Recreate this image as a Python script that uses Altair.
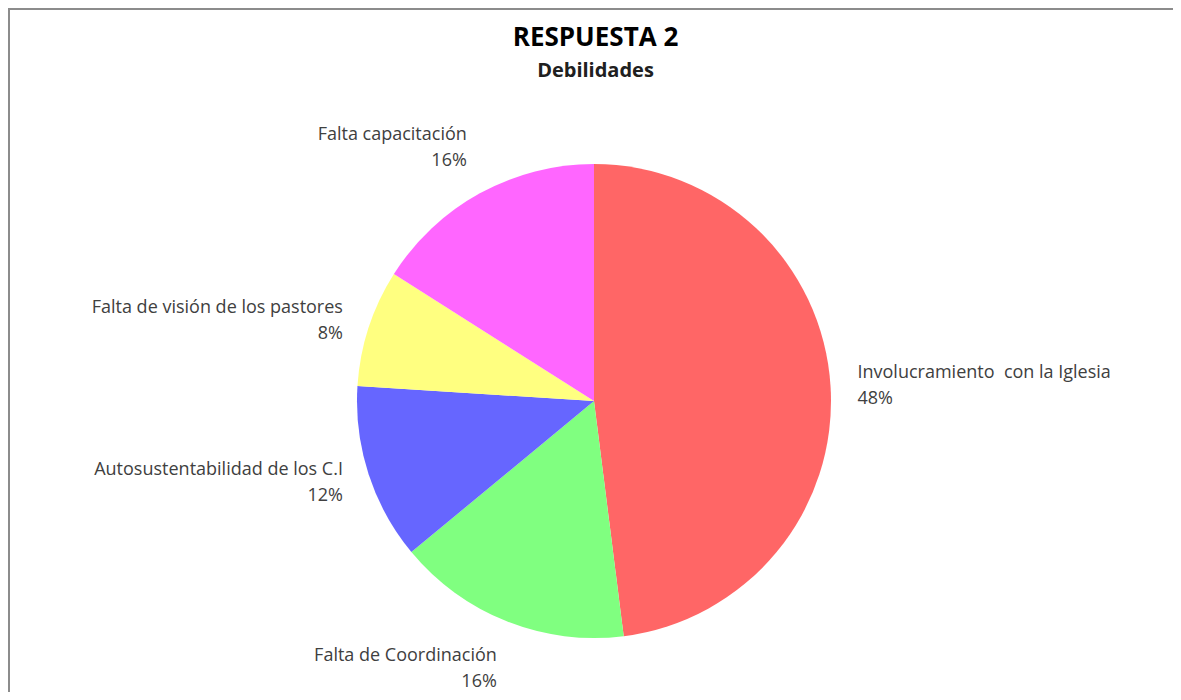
import altair as alt
import pandas as pd

categories = ["Involucramiento\u00a0 con la Iglesia", "Falta de Coordinación",
              "Autosustentabilidad de los C.I", "Falta de visión de los pastores",
              "Falta capacitación"]
values = [48, 16, 12, 8, 16]
colors = ["#FF6666", "#80FF80", "#6666FF", "#FFFF80", "#FF66FF"]
# label placement group: side / vertical anchor
placement = ["left-middle", "right-top", "right-middle-a", "right-middle-b", "right-bottom"]

df = pd.DataFrame({
    "cat": categories,
    "val": values,
    "order": list(range(len(categories))),
    "place": placement,
})
df["label"] = [[c, f"{v}%"] for c, v in zip(categories, values)]

CX, CY = 586, 393
R = 237
LR = 264
FONT = "Open Sans"

theta_scale = alt.Scale(domain=[0, 100], range=[0, 6.283185307179586])
color_scale = alt.Scale(domain=categories, range=colors)

base = alt.Chart(df)

pie = base.mark_arc(outerRadius=R, stroke=None).encode(
    theta=alt.Theta("val:Q", stack=True, scale=theta_scale),
    color=alt.Color("cat:N", scale=color_scale, legend=None),
    order=alt.Order("order:Q"),
    x=alt.value(CX),
    y=alt.value(CY),
)

lab_base = base.transform_window(
    cum="sum(val)", sort=[alt.SortField("order")], frame=[None, 0]
).transform_calculate(
    mid="datum.cum - datum.val / 2"
)

def label_layer(place, align, baseline, dy):
    return lab_base.transform_filter(alt.datum.place == place).mark_text(
        radius=LR, align=align, baseline=baseline, font=FONT, fontSize=18,
        lineHeight=26, color="#404040", dy=dy
    ).encode(
        theta=alt.Theta("mid:Q", stack=None, scale=theta_scale),
        text="label",
        x=alt.value(CX),
        y=alt.value(CY),
    )

labels = [
    label_layer("left-middle", "left", "middle", -11),
    label_layer("right-middle-a", "right", "middle", -13),
    label_layer("right-middle-b", "right", "middle", -11),
    label_layer("right-bottom", "right", "bottom", -26),
    label_layer("right-top", "right", "top", 1),
]

border = alt.Chart(pd.DataFrame({"a": [0]})).mark_rect(
    fill=None, stroke="#8c8c8c", strokeWidth=2
).encode(
    x=alt.value(1), x2=alt.value(1400), y=alt.value(1), y2=alt.value(900)
)

chart = alt.layer(border, pie, *labels).properties(
    width=1165, height=684,
    title=alt.TitleParams(
        "RESPUESTA 2", subtitle="Debilidades", anchor="middle",
        font=FONT, fontSize=26, fontWeight="bold", color="#000000",
        subtitleFont=FONT, subtitleFontSize=20, subtitleFontWeight="bold",
        subtitleColor="#202020", offset=-68, subtitlePadding=10,
        dx=5, dy=5,
    ),
    padding=0,
    autosize=alt.AutoSizeParams(type="none"),
).configure_view(stroke=None)

chart.save("out.html", embed_options={"renderer": "svg", "actions": False})
